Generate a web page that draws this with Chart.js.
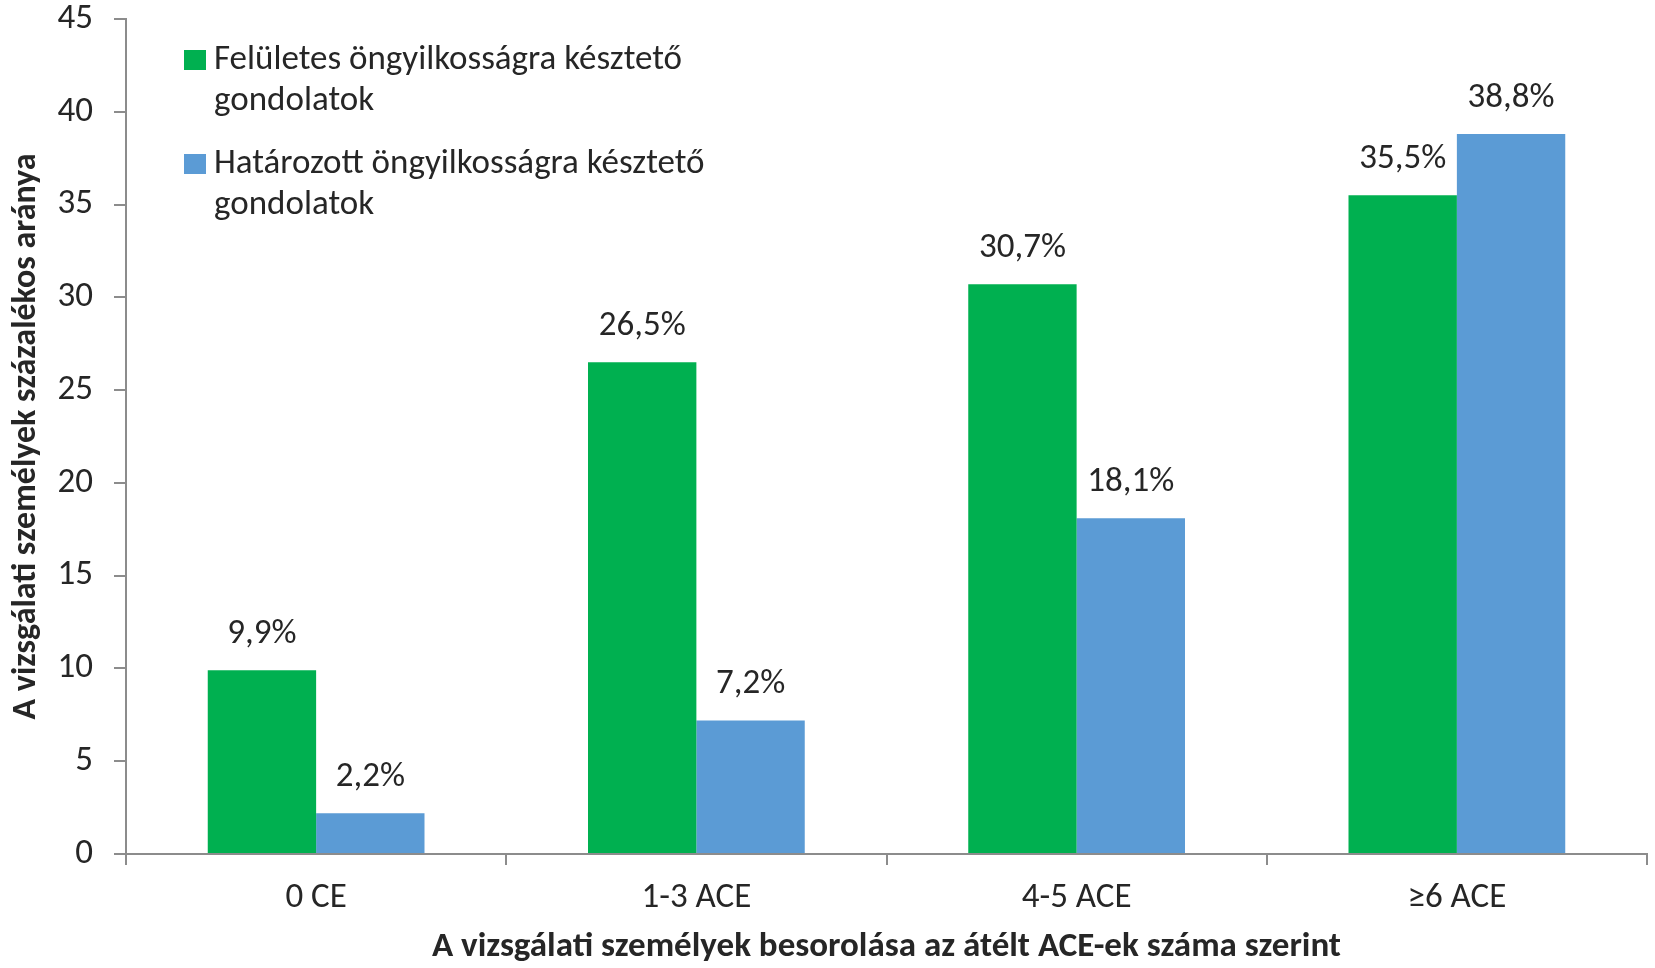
<!DOCTYPE html>
<html>
<head>
<meta charset="utf-8">
<script src="https://cdn.jsdelivr.net/npm/chart.js@4.4.1/dist/chart.umd.min.js"></script>
<style>
  html, body { margin: 0; padding: 0; background: #fff; }
  #wrap { width: 1655px; height: 968px; }
</style>
</head>
<body>
<div id="wrap"><canvas id="chart" width="1655" height="968"></canvas></div>
<script>
// chart data
const categories = ['0 CE', '1-3 ACE', '4-5 ACE', '≥6 ACE'];
const feluletes = [9.9, 26.5, 30.7, 35.5];
const hatarozott = [2.2, 7.2, 18.1, 38.8];
const seriesNames = ['Felületes öngyilkosságra késztető gondolatok', 'Határozott öngyilkosságra késztető gondolatok'];
const yTicks = [0, 5, 10, 15, 20, 25, 30, 35, 40, 45];

const FONT = "Carlito, 'Open Sans', sans-serif";
const TEXT = '#262626';
const AXIS = '#8c8c8c';

// value labels above each bar
const barLabels = {
  id: 'barLabels',
  afterDatasetsDraw(chart) {
    const ctx = chart.ctx;
    ctx.save();
    ctx.font = '35px ' + FONT;
    ctx.fillStyle = TEXT;
    ctx.textAlign = 'center';
    ctx.textBaseline = 'middle';
    chart.data.datasets.forEach((ds, i) => {
      chart.getDatasetMeta(i).data.forEach((bar, j) => {
        ctx.fillText(ds.data[j].toFixed(1).replace('.', ',') + '%', bar.x, bar.y - 36);
      });
    });
    ctx.restore();
  }
};

// legend drawn inside the plot, two lines per entry
const innerLegend = {
  id: 'innerLegend',
  afterDraw(chart) {
    const ctx = chart.ctx;
    const area = chart.chartArea;
    ctx.save();
    ctx.font = '35px ' + FONT;
    ctx.textBaseline = 'middle';
    chart.data.datasets.forEach((ds, i) => {
      const top = area.top + 41 + i * 104;
      ctx.fillStyle = ds.backgroundColor;
      ctx.fillRect(area.left + 58, top - 10, 22, 20);
      ctx.fillStyle = TEXT;
      const words = ds.label.split(' ');
      const first = words.slice(0, -1).join(' ');
      const last = words[words.length - 1];
      ctx.fillText(first, area.left + 88, top);
      ctx.fillText(last, area.left + 88, top + 41);
    });
    ctx.restore();
  }
};

new Chart(document.getElementById('chart'), {
  type: 'bar',
  data: {
    labels: categories,
    datasets: [
      { label: seriesNames[0], data: feluletes, backgroundColor: '#00B050' },
      { label: seriesNames[1], data: hatarozott, backgroundColor: '#5B9BD5' }
    ]
  },
  options: {
    responsive: false,
    animation: false,
    layout: { padding: { top: 19, right: 8, left: 0, bottom: 0 } },
    datasets: { bar: { categoryPercentage: 0.57, barPercentage: 1.0, borderWidth: 0 } },
    plugins: { legend: { display: false }, tooltip: { enabled: false } },
    scales: {
      x: {
        grid: { display: true, offset: true, drawOnChartArea: false, drawTicks: true, tickLength: 11, color: AXIS, lineWidth: 2 },
        border: { color: AXIS, width: 2 },
        ticks: { color: TEXT, font: { family: FONT, size: 35 }, padding: 12 },
        title: { display: true, text: 'A vizsgálati személyek besorolása az átélt ACE-ek száma szerint', color: TEXT, font: { family: FONT, size: 35, weight: 'bold' }, padding: { top: 0, bottom: 0 } },
        afterFit(scale) {
          scale.height = 114;
          scale.paddingLeft = 0;
          scale.paddingRight = 0;
        }
      },
      y: {
        min: 0,
        max: 45,
        afterBuildTicks(scale) { scale.ticks = yTicks.map(v => ({ value: v })); },
        grid: { display: true, drawOnChartArea: false, drawTicks: true, tickLength: 12, color: AXIS, lineWidth: 2 },
        border: { color: AXIS, width: 2 },
        ticks: { color: TEXT, font: { family: FONT, size: 35 }, padding: 21 },
        title: { display: true, text: 'A vizsgálati személyek százalékos aránya', color: TEXT, font: { family: FONT, size: 34, weight: 'bold' }, padding: { top: 6, bottom: 6 } },
        afterFit(scale) {
          scale.width = 126;
          scale.paddingTop = 0;
          scale.paddingBottom = 0;
        }
      }
    }
  },
  plugins: [barLabels, innerLegend]
});
</script>
</body>
</html>
